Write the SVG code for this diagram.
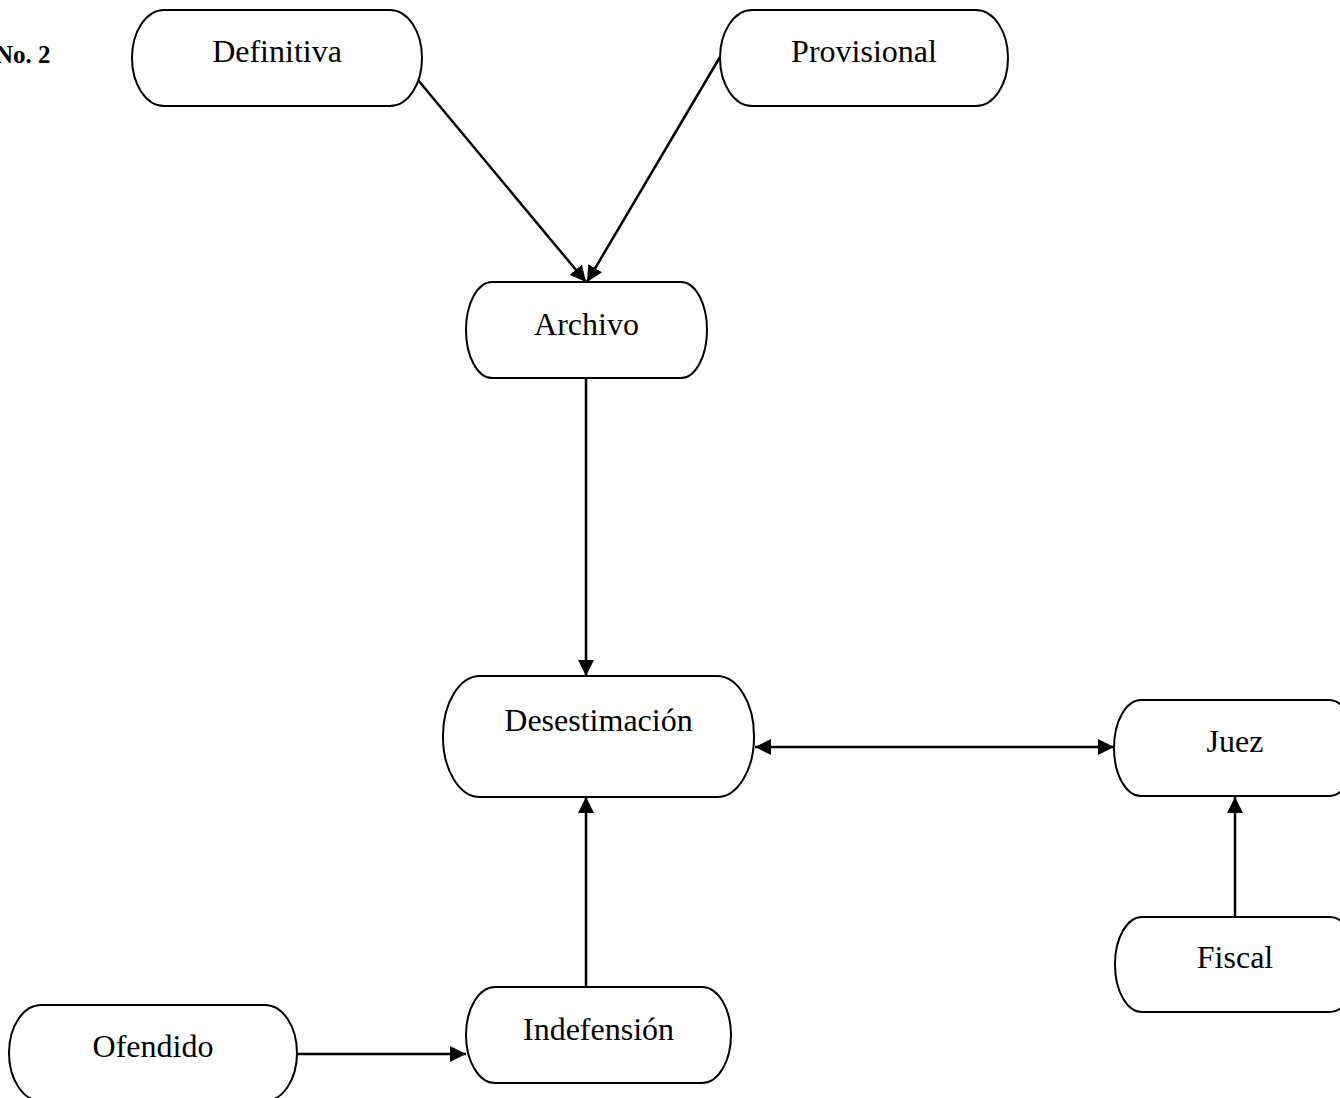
<svg xmlns="http://www.w3.org/2000/svg" width="1340" height="1098" viewBox="0 0 1340 1098">
<style>
.box{fill:#fff;stroke:#000;stroke-width:2}
.lbl{font-family:"Liberation Serif","Times New Roman",serif;font-size:32px;fill:#000;text-anchor:middle}
.title{font-family:"Liberation Serif","Times New Roman",serif;font-size:25px;font-weight:bold;fill:#000}
.conn{stroke:#000;stroke-width:2.5;fill:none}
</style>
<defs>
<marker id="ah" markerUnits="userSpaceOnUse" markerWidth="17" markerHeight="16" refX="16" refY="8" orient="auto-start-reverse" viewBox="0 0 17 16">
<path d="M0,0 L16,8 L0,16 z" fill="#000"/>
</marker>
</defs>
<rect width="1340" height="1098" fill="#fff"/>
<text class="title" x="-5" y="63">No. 2</text>
<g id="connectors">
<line class="conn" x1="413" y1="74" x2="586" y2="282" marker-end="url(#ah)"/>
<line class="conn" x1="720" y1="57" x2="587" y2="282" marker-end="url(#ah)"/>
<line class="conn" x1="586" y1="378" x2="586" y2="676" marker-end="url(#ah)"/>
<line class="conn" x1="755" y1="747" x2="1114" y2="747" marker-start="url(#ah)" marker-end="url(#ah)"/>
<line class="conn" x1="586" y1="987" x2="586" y2="797" marker-end="url(#ah)"/>
<line class="conn" x1="1235" y1="917" x2="1235" y2="797" marker-end="url(#ah)"/>
<line class="conn" x1="297" y1="1054" x2="466" y2="1054" marker-end="url(#ah)"/>
</g>
<g id="node-definitiva">
<rect class="box" x="132" y="10" width="290" height="96" rx="32" ry="48"/>
<text class="lbl" x="277" y="62">Definitiva</text>
</g>
<g id="node-provisional">
<rect class="box" x="720" y="10" width="288" height="96" rx="32" ry="48"/>
<text class="lbl" x="864" y="62">Provisional</text>
</g>
<g id="node-archivo">
<rect class="box" x="466" y="282" width="241" height="96" rx="26" ry="48"/>
<text class="lbl" x="586.5" y="335">Archivo</text>
</g>
<g id="node-desestimacion">
<rect class="box" x="443" y="676" width="311" height="121" rx="37" ry="60"/>
<text class="lbl" x="598.5" y="731">Desestimación</text>
</g>
<g id="node-juez">
<rect class="box" x="1114" y="700" width="242" height="96" rx="27" ry="48"/>
<text class="lbl" x="1235" y="752">Juez</text>
</g>
<g id="node-fiscal">
<rect class="box" x="1115" y="917" width="242" height="95" rx="27" ry="47"/>
<text class="lbl" x="1235" y="968">Fiscal</text>
</g>
<g id="node-ofendido">
<rect class="box" x="9" y="1005" width="288" height="96" rx="32" ry="48"/>
<text class="lbl" x="153" y="1057">Ofendido</text>
</g>
<g id="node-indefension">
<rect class="box" x="466" y="987" width="265" height="96" rx="29" ry="48"/>
<text class="lbl" x="598.5" y="1040">Indefensión</text>
</g>
</svg>
